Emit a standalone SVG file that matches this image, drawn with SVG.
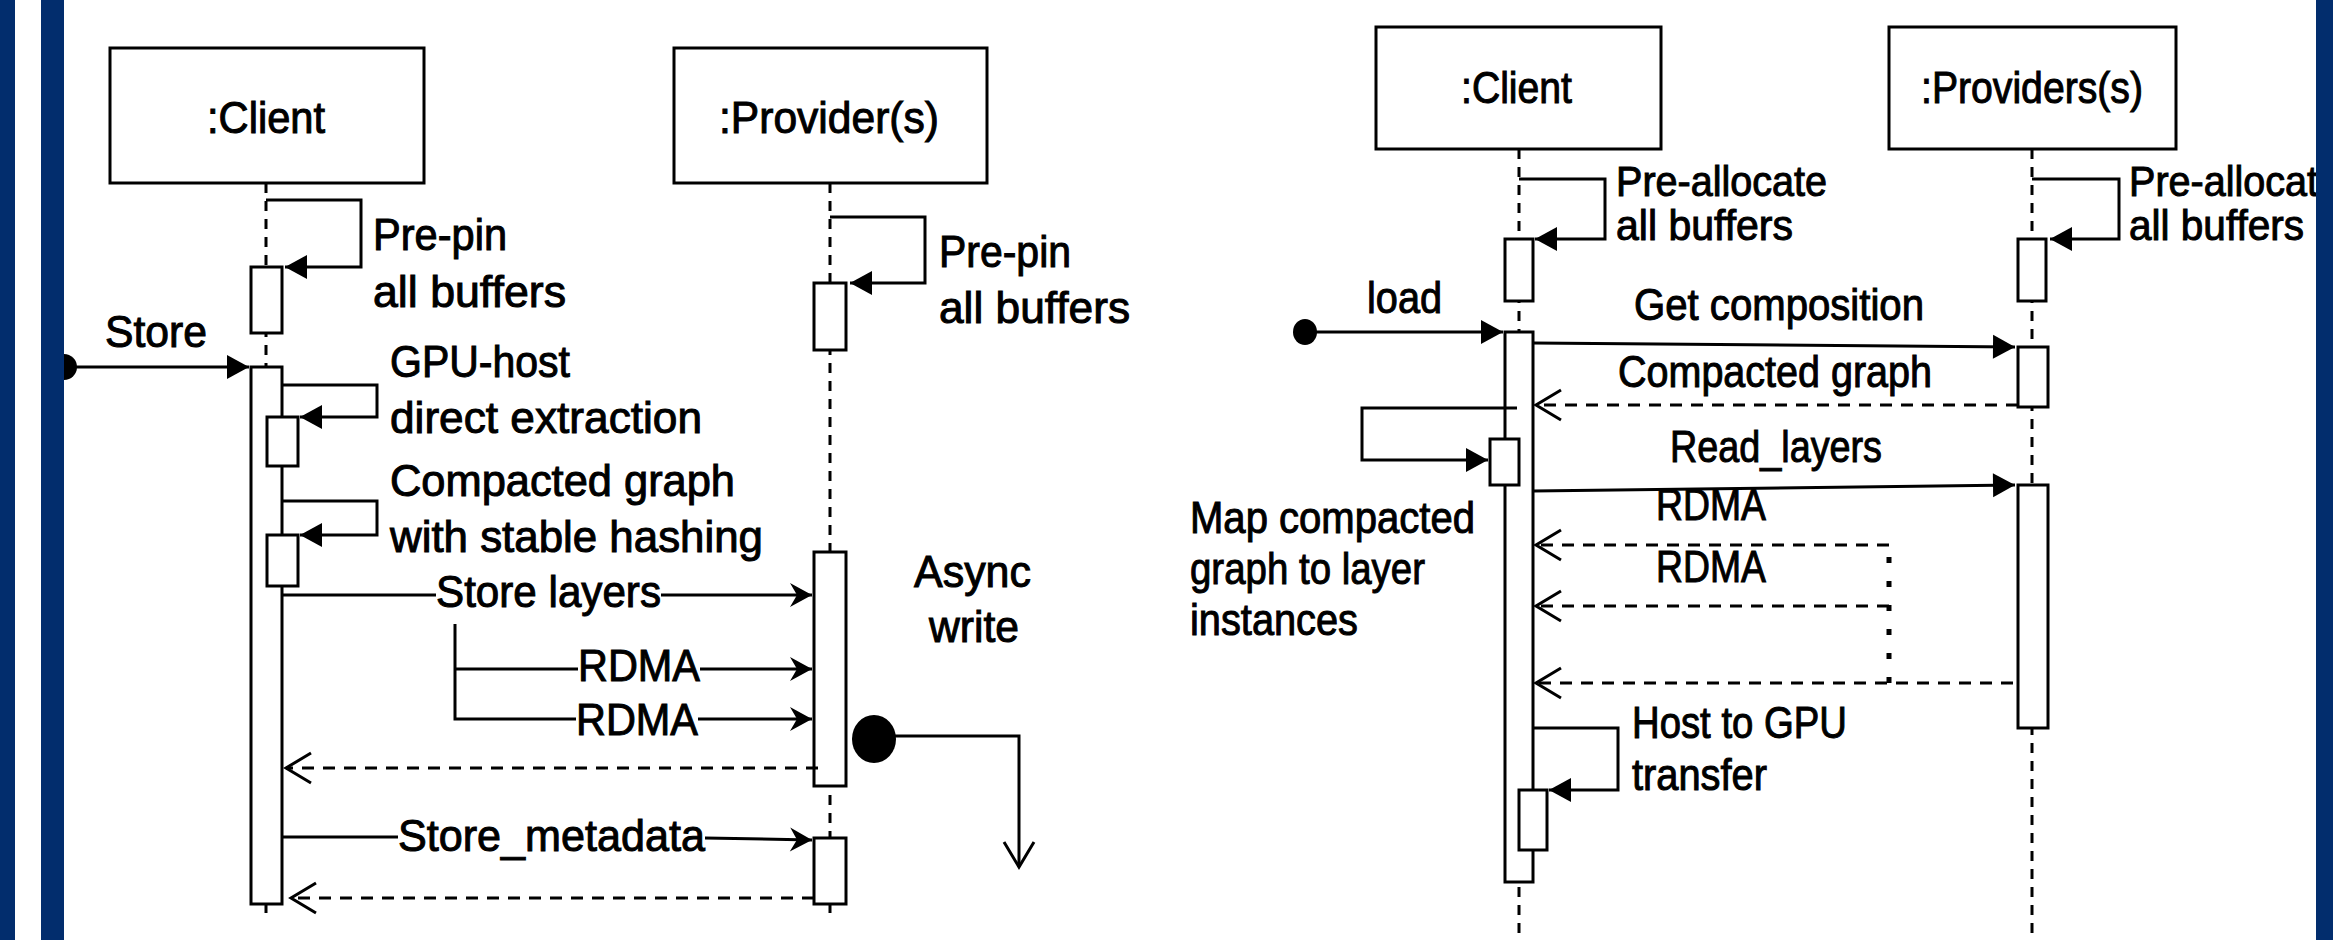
<svg xmlns="http://www.w3.org/2000/svg" width="2333" height="940" viewBox="0 0 2333 940">
<style>
.t{font-family:"Liberation Sans",Arial,sans-serif;font-size:44px;fill:#000;stroke:#000;stroke-width:1}
.s{font-size:42px}
.box{fill:#fff;stroke:#000;stroke-width:3}
.life{stroke:#000;stroke-width:3;stroke-dasharray:10 8;fill:none}
.msg{stroke:#000;stroke-width:3;fill:none}
.ret{stroke:#000;stroke-width:3;stroke-dasharray:12 9;fill:none}
.dot{stroke:#000;stroke-width:5;stroke-dasharray:6 18;fill:none}
.bar{fill:#022d6d}
</style>
<defs>
<marker id="tri" markerUnits="userSpaceOnUse" markerWidth="24" markerHeight="26" refX="22" refY="13" orient="auto" overflow="visible"><path d="M0,1 L22,13 L0,25 z" fill="#000"/></marker>
<marker id="barb" markerUnits="userSpaceOnUse" markerWidth="24" markerHeight="26" refX="22" refY="13" orient="auto" overflow="visible"><path d="M0,1 L22,13 L0,25 L7,13 z" fill="#000"/></marker>
<marker id="open" markerUnits="userSpaceOnUse" markerWidth="30" markerHeight="34" refX="27" refY="16" orient="auto" overflow="visible"><path d="M2,1 L27,16 L2,31" fill="none" stroke="#000" stroke-width="3"/></marker>
</defs>
<rect width="2333" height="940" fill="#fff"/>

<!-- lifelines -->
<g id="lifelines">
<line class="life" x1="266" y1="183" x2="266" y2="917"/>
<line class="life" x1="830" y1="183" x2="830" y2="917"/>
<line class="life" x1="1519" y1="149" x2="1519" y2="940"/>
<line class="life" x1="2032" y1="149" x2="2032" y2="940"/>
</g>

<!-- left diagram nodes -->
<g id="client-left">
<rect class="box" x="110" y="48" width="314" height="135"/>
<text class="t" x="207" y="133" textLength="118" lengthAdjust="spacingAndGlyphs">:Client</text>
</g>
<g id="provider-left">
<rect class="box" x="674" y="48" width="313" height="135"/>
<text class="t" x="719" y="133" textLength="220" lengthAdjust="spacingAndGlyphs">:Provider(s)</text>
</g>
<g id="client-left-prepin-act"><rect class="box" x="251" y="267" width="31" height="66"/></g>
<g id="client-left-main-act"><rect class="box" x="251" y="367" width="31" height="537"/></g>
<g id="client-left-gpu-act"><rect class="box" x="267" y="417" width="31" height="49"/></g>
<g id="client-left-hash-act"><rect class="box" x="267" y="535" width="31" height="51"/></g>
<g id="provider-left-prepin-act"><rect class="box" x="814" y="283" width="32" height="67"/></g>
<g id="provider-left-write-act"><rect class="box" x="814" y="552" width="32" height="234"/></g>
<g id="provider-left-meta-act"><rect class="box" x="814" y="838" width="32" height="66"/></g>

<!-- right diagram nodes -->
<g id="client-right">
<rect class="box" x="1376" y="27" width="285" height="122"/>
<text class="t" x="1461" y="103" textLength="111" lengthAdjust="spacingAndGlyphs">:Client</text>
</g>
<g id="providers-right">
<rect class="box" x="1889" y="27" width="287" height="122"/>
<text class="t" x="1921" y="103" textLength="222" lengthAdjust="spacingAndGlyphs">:Providers(s)</text>
</g>
<g id="client-right-prealloc-act"><rect class="box" x="1505" y="239" width="28" height="62"/></g>
<g id="client-right-main-act"><rect class="box" x="1505" y="332" width="28" height="550"/></g>
<g id="providers-right-prealloc-act"><rect class="box" x="2018" y="239" width="28" height="62"/></g>
<g id="providers-right-comp-act"><rect class="box" x="2018" y="347" width="30" height="60"/></g>
<g id="providers-right-read-act"><rect class="box" x="2018" y="485" width="30" height="243"/></g>

<!-- connectors -->
<g id="connectors">
<!-- left -->
<polyline class="msg" points="266,200 361,200 361,267 285,267" marker-end="url(#tri)"/>
<line class="msg" x1="64" y1="367" x2="249" y2="367" marker-end="url(#tri)"/>
<polyline class="msg" points="282,385 377,385 377,417 300,417" marker-end="url(#tri)"/>
<polyline class="msg" points="282,501 377,501 377,535 300,535" marker-end="url(#tri)"/>
<line class="msg" x1="282" y1="595" x2="436" y2="595"/>
<line class="msg" x1="661" y1="595" x2="812" y2="595" marker-end="url(#barb)"/>
<polyline class="msg" points="455,624 455,719 576,719"/>
<line class="msg" x1="455" y1="669" x2="578" y2="669"/>
<line class="msg" x1="700" y1="669" x2="812" y2="669" marker-end="url(#barb)"/>
<line class="msg" x1="698" y1="719" x2="812" y2="719" marker-end="url(#barb)"/>
<line class="ret" x1="818" y1="768" x2="286" y2="768" marker-end="url(#open)"/>
<line class="msg" x1="282" y1="837" x2="398" y2="837"/>
<line class="msg" x1="705" y1="838" x2="812" y2="840" marker-end="url(#barb)"/>
<line class="ret" x1="814" y1="898" x2="291" y2="898" marker-end="url(#open)"/>
<polyline class="msg" points="874,736 1019,736 1019,867" marker-end="url(#open)"/>
<polyline class="msg" points="830,217 925,217 925,283 850,283" marker-end="url(#tri)"/>
<!-- right -->
<polyline class="msg" points="1519,179 1605,179 1605,239 1535,239" marker-end="url(#tri)"/>
<polyline class="msg" points="2032,179 2119,179 2119,239 2050,239" marker-end="url(#tri)"/>
<line class="msg" x1="1305" y1="332" x2="1503" y2="332" marker-end="url(#tri)"/>
<line class="msg" x1="1533" y1="343" x2="2015" y2="347" marker-end="url(#tri)"/>
<line class="ret" x1="2018" y1="405" x2="1536" y2="405" marker-end="url(#open)"/>
<polyline class="msg" points="1517,408 1362,408 1362,460 1488,460" marker-end="url(#tri)"/>
<line class="msg" x1="1533" y1="491" x2="2015" y2="485" marker-end="url(#tri)"/>
<line class="ret" x1="1889" y1="545" x2="1536" y2="545" marker-end="url(#open)"/>
<line class="ret" x1="1889" y1="606" x2="1536" y2="606" marker-end="url(#open)"/>
<line class="ret" x1="2013" y1="683" x2="1536" y2="683" marker-end="url(#open)"/>
<line class="dot" x1="1889" y1="557" x2="1889" y2="683"/>
<polyline class="msg" points="1533,728 1618,728 1618,790 1549,790" marker-end="url(#tri)"/>
</g>

<!-- nested activations on top of connectors -->
<g id="client-right-map-act"><rect class="box" x="1490" y="439" width="29" height="46"/></g>
<g id="client-right-h2g-act"><rect class="box" x="1519" y="790" width="28" height="60"/></g>

<!-- start points -->
<g id="start-store"><circle cx="64" cy="367" r="13" fill="#000"/></g>
<g id="start-load"><ellipse cx="1305" cy="332" rx="12" ry="13" fill="#000"/></g>
<g id="async-start"><ellipse cx="874" cy="739" rx="22" ry="24" fill="#000"/></g>

<!-- labels -->
<g id="labels">
<text class="t" x="373" y="250" textLength="134" lengthAdjust="spacingAndGlyphs">Pre-pin</text>
<text class="t" x="373" y="307" textLength="193" lengthAdjust="spacingAndGlyphs">all buffers</text>
<text class="t" x="105" y="347" textLength="102" lengthAdjust="spacingAndGlyphs">Store</text>
<text class="t" x="390" y="377" textLength="180" lengthAdjust="spacingAndGlyphs">GPU-host</text>
<text class="t" x="390" y="433" textLength="312" lengthAdjust="spacingAndGlyphs">direct extraction</text>
<text class="t" x="390" y="496" textLength="345" lengthAdjust="spacingAndGlyphs">Compacted graph</text>
<text class="t" x="390" y="552" textLength="373" lengthAdjust="spacingAndGlyphs">with stable hashing</text>
<text class="t" x="436" y="607" textLength="225" lengthAdjust="spacingAndGlyphs">Store layers</text>
<text class="t" x="578" y="681" textLength="122" lengthAdjust="spacingAndGlyphs">RDMA</text>
<text class="t" x="576" y="735" textLength="122" lengthAdjust="spacingAndGlyphs">RDMA</text>
<text class="t" x="398" y="851" textLength="307" lengthAdjust="spacingAndGlyphs">Store_metadata</text>
<text class="t" x="939" y="267" textLength="132" lengthAdjust="spacingAndGlyphs">Pre-pin</text>
<text class="t" x="939" y="323" textLength="191" lengthAdjust="spacingAndGlyphs">all buffers</text>
<text class="t" x="914" y="587" textLength="117" lengthAdjust="spacingAndGlyphs">Async</text>
<text class="t" x="929" y="642" textLength="90" lengthAdjust="spacingAndGlyphs">write</text>

<text class="t s" x="1616" y="196" textLength="211" lengthAdjust="spacingAndGlyphs">Pre-allocate</text>
<text class="t s" x="1616" y="240" textLength="177" lengthAdjust="spacingAndGlyphs">all buffers</text>
<text class="t s" x="2129" y="196" textLength="211" lengthAdjust="spacingAndGlyphs">Pre-allocate</text>
<text class="t s" x="2129" y="240" textLength="175" lengthAdjust="spacingAndGlyphs">all buffers</text>
<text class="t" x="1367" y="313" textLength="75" lengthAdjust="spacingAndGlyphs">load</text>
<text class="t" x="1634" y="320" textLength="290" lengthAdjust="spacingAndGlyphs">Get composition</text>
<text class="t" x="1618" y="387" textLength="314" lengthAdjust="spacingAndGlyphs">Compacted graph</text>
<text class="t" x="1670" y="462" textLength="212" lengthAdjust="spacingAndGlyphs">Read_layers</text>
<text class="t" x="1656" y="520" textLength="110" lengthAdjust="spacingAndGlyphs">RDMA</text>
<text class="t" x="1656" y="582" textLength="110" lengthAdjust="spacingAndGlyphs">RDMA</text>
<text class="t" x="1190" y="533" textLength="285" lengthAdjust="spacingAndGlyphs">Map compacted</text>
<text class="t" x="1190" y="584" textLength="235" lengthAdjust="spacingAndGlyphs">graph to layer</text>
<text class="t" x="1190" y="635" textLength="168" lengthAdjust="spacingAndGlyphs">instances</text>
<text class="t" x="1632" y="738" textLength="215" lengthAdjust="spacingAndGlyphs">Host to GPU</text>
<text class="t" x="1632" y="790" textLength="135" lengthAdjust="spacingAndGlyphs">transfer</text>
</g>

<!-- page border bars -->
<g id="border">
<rect class="bar" x="0" y="0" width="15" height="940"/>
<rect class="bar" x="41" y="0" width="23" height="940"/>
<rect class="bar" x="2316" y="0" width="17" height="940"/>
</g>
</svg>
